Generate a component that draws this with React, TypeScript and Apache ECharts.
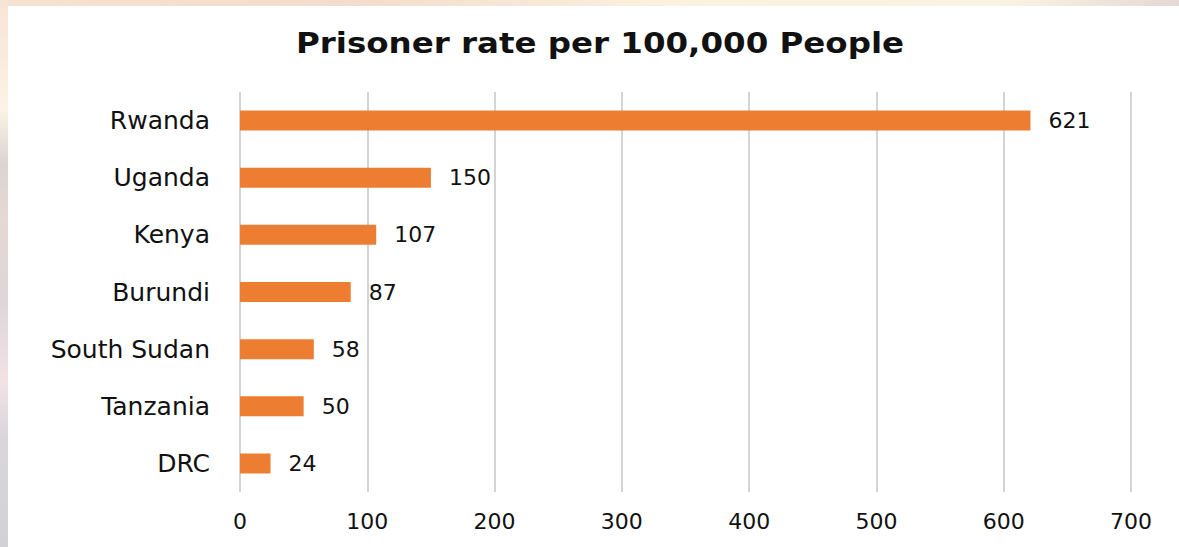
import React, { useEffect, useRef } from "react";
import * as echarts from "echarts";

const titleText = "Prisoner rate per 100,000 People";
const countries = ["Rwanda", "Uganda", "Kenya", "Burundi", "South Sudan", "Tanzania", "DRC"];
const rates = [621, 150, 107, 87, 58, 50, 24];
const axisMin = 0;
const axisMax = 700;
const axisStep = 100;

const FONT = "DejaVu Sans";

export default function App() {
  const ref = useRef<HTMLDivElement>(null);
  useEffect(() => {
    if (!ref.current) return;
    const chart = echarts.init(ref.current, undefined, { renderer: "svg" });
    chart.setOption({
      animation: false,
      backgroundColor: "#ffffff",
      graphic: [
        {
          type: "text",
          x: 592,
          y: 37,
          scaleX: 1.16,
          style: {
            text: titleText,
            fontFamily: FONT,
            fontSize: 28,
            fontWeight: "bold",
            fill: "#111111",
            textAlign: "center",
            textVerticalAlign: "middle",
          },
        },
      ],
      grid: { left: 232, right: 48, top: 86, bottom: 55, containLabel: false },
      xAxis: {
        type: "value",
        min: axisMin,
        max: axisMax,
        interval: axisStep,
        axisLine: { show: false },
        axisTick: { show: false },
        splitLine: { show: true, lineStyle: { color: "#d4d4d4", width: 2 } },
        axisLabel: { fontFamily: FONT, fontSize: 22, color: "#111111", margin: 18 },
      },
      yAxis: {
        type: "category",
        inverse: true,
        data: countries,
        axisLine: { show: false },
        axisTick: { show: false },
        axisLabel: { fontFamily: FONT, fontSize: 25, color: "#111111", margin: 30 },
      },
      series: [
        {
          type: "bar",
          data: rates,
          barWidth: 20,
          itemStyle: { color: "#ed7d31" },
          label: {
            show: true,
            position: "right",
            distance: 18,
            fontFamily: FONT,
            fontSize: 22,
            color: "#111111",
          },
        },
      ],
    });
    return () => chart.dispose();
  }, []);

  return (
    <div style={{ position: "fixed", left: 0, top: 0, width: 1179, height: 547, overflow: "hidden" }}>
      <div
        style={{
          position: "absolute",
          left: 0,
          top: 0,
          width: 1179,
          height: 6,
          background: "linear-gradient(90deg, #f6e2d2 0%, #f3dccd 30%, #fcf3e0 60%, #faf4e4 85%, #e6d8d4 100%)",
        }}
      />
      <div
        style={{
          position: "absolute",
          left: 0,
          top: 0,
          width: 8,
          height: 547,
          background: "linear-gradient(180deg, #f8e4d4 0%, #fbf3e4 20%, #dad4d2 30%, #e6d8d2 40%, #ddd6da 55%, #f2e2e6 70%, #d8d6da 80%, #d2d2d6 100%)",
        }}
      />
      <div ref={ref} style={{ position: "absolute", left: 8, top: 6, width: 1171, height: 541 }} />
    </div>
  );
}
